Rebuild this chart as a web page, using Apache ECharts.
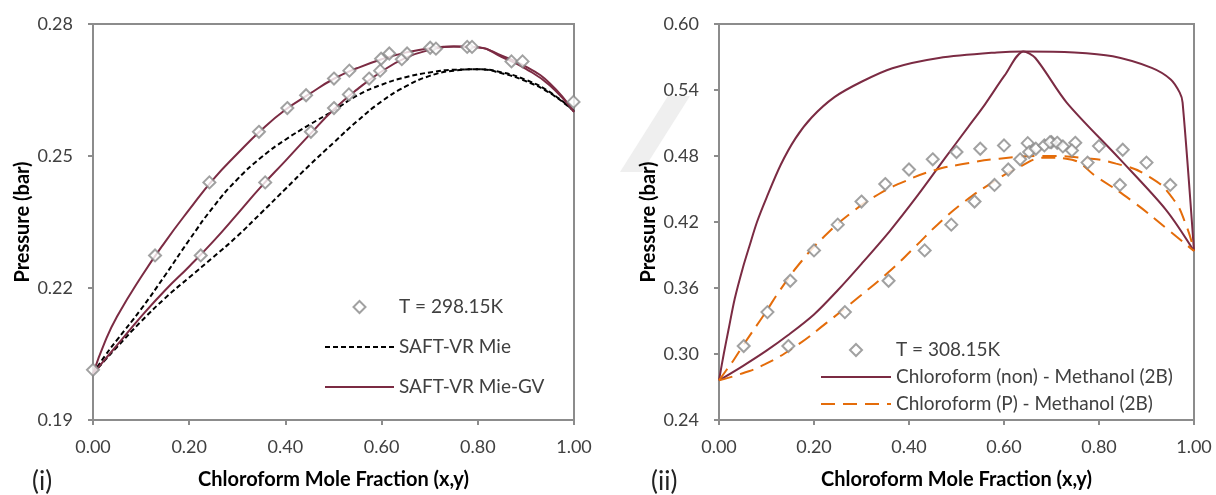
<!DOCTYPE html>
<html>
<head>
<meta charset="utf-8">
<title>Chloroform VLE</title>
<script src="https://cdn.jsdelivr.net/npm/echarts@6.0.0/dist/echarts.min.js"></script>
<style>
  html, body { margin: 0; padding: 0; background: #fff; }
  #main { width: 1216px; height: 495px; }
</style>
</head>
<body>
<div id="main"></div>
<script>
// ticks
const xTicks = [0, 0.2, 0.4, 0.6, 0.8, 1.0]
const leftPTicks = [0.19, 0.22, 0.25, 0.28]
const rightPTicks = [0.24, 0.30, 0.36, 0.42, 0.48, 0.54, 0.60]

// (i) T = 298.15K, experimental points
const leftExpX = [0, 0.129, 0.224, 0.242, 0.345, 0.358, 0.404, 0.443, 0.453, 0.501, 0.533, 0.501, 0.532,
  0.574, 0.597, 0.599, 0.616, 0.642, 0.653, 0.701, 0.713, 0.778, 0.788, 0.870, 0.893, 0.999]
const leftExpP = [0.2014, 0.2274, 0.2274, 0.2440, 0.2555, 0.2440, 0.2609, 0.2638, 0.2555, 0.2676, 0.2694, 0.2609, 0.2640,
  0.2676, 0.2694, 0.2721, 0.2733, 0.2720, 0.2733, 0.2746, 0.2744, 0.2748, 0.2748, 0.2715, 0.2715, 0.2623]

// (i) model curves, same x for all
const leftCurveX = [0, 0.025, 0.05, 0.10, 0.15, 0.20, 0.25, 0.30, 0.35, 0.40, 0.45, 0.50,
  0.55, 0.60, 0.65, 0.70, 0.75, 0.80, 0.85, 0.90, 0.95, 1.0]
const mieBubble = [0.2005, 0.2046, 0.2082, 0.2152, 0.2229, 0.2309, 0.2384, 0.2447, 0.2497, 0.2537, 0.2571, 0.2603,
  0.2638, 0.2662, 0.2679, 0.2690, 0.2696, 0.2697, 0.2688, 0.2670, 0.2643, 0.2602]
const mieDew = [0.2005, 0.2036, 0.2066, 0.2124, 0.2177, 0.2224, 0.2270, 0.2318, 0.2371, 0.2425, 0.2479, 0.2530,
  0.2580, 0.2624, 0.2658, 0.2682, 0.2694, 0.2697, 0.2690, 0.2673, 0.2645, 0.2602]
const gvBubble = [0.2005, 0.2078, 0.2135, 0.2225, 0.2305, 0.2378, 0.2447, 0.2505, 0.2559, 0.2605, 0.2641, 0.2675,
  0.2700, 0.2720, 0.2735, 0.2745, 0.2749, 0.2747, 0.2728, 0.2703, 0.2665, 0.2600]
const gvDew = [0.2005, 0.2038, 0.2070, 0.2135, 0.2195, 0.2249, 0.2306, 0.2368, 0.2431, 0.2489, 0.2548, 0.2605,
  0.2652, 0.2692, 0.2723, 0.2741, 0.2749, 0.2747, 0.2725, 0.2698, 0.2660, 0.2600]

// (ii) T = 308.15K, experimental points
const rightExpX = [0.052, 0.102, 0.150, 0.200, 0.250, 0.300, 0.350, 0.400, 0.450, 0.500, 0.550, 0.600, 0.650,
  0.700, 0.750, 0.800, 0.850, 0.900, 0.950,
  0.146, 0.265, 0.357, 0.433, 0.489, 0.538, 0.580, 0.609, 0.634, 0.653, 0.667, 0.685, 0.697, 0.712,
  0.724, 0.743, 0.776, 0.844]
const rightExpP = [0.3072, 0.3381, 0.3666, 0.3942, 0.4176, 0.4386, 0.4545, 0.4677, 0.4770, 0.4836, 0.4866, 0.4896, 0.4917,
  0.4926, 0.4920, 0.4890, 0.4857, 0.4740, 0.4537,
  0.3072, 0.3381, 0.3666, 0.3942, 0.4176, 0.4386, 0.4537, 0.4677, 0.4770, 0.4836, 0.4866, 0.4896, 0.4926, 0.4920,
  0.4887, 0.4851, 0.4740, 0.4537]

// (ii) chloroform (non) - methanol (2B)
const nonOuterX = [0, 0.010, 0.020, 0.033, 0.050, 0.064, 0.080, 0.100, 0.130, 0.161, 0.195, 0.243,
  0.300, 0.365, 0.463, 0.585, 0.642, 0.748, 0.829, 0.911, 0.951, 0.970, 0.976, 1.0]
const nonOuterP = [0.276, 0.300, 0.322, 0.350, 0.378, 0.398, 0.420, 0.442, 0.4720, 0.4960, 0.5150, 0.5335,
  0.5475, 0.5598, 0.5691, 0.5742, 0.5751, 0.5742, 0.5706, 0.5601, 0.5496, 0.5376, 0.5286, 0.3936]
const nonInnerX = [0, 0.05, 0.10, 0.145, 0.20, 0.25, 0.30, 0.36, 0.419, 0.475, 0.524, 0.56,
  0.601, 0.641, 0.666, 0.732, 0.843, 0.941, 1.0]
const nonInnerP = [0.276, 0.289, 0.303, 0.317, 0.336, 0.358, 0.382, 0.412, 0.4446, 0.4776, 0.506, 0.527,
  0.553, 0.5751, 0.5691, 0.5286, 0.4776, 0.4311, 0.3936]

// (ii) chloroform (P) - methanol (2B)
const pUpperX = [0, 0.015, 0.031, 0.052, 0.096, 0.130, 0.175, 0.222, 0.279, 0.335, 0.391, 0.454, 0.52,
  0.59, 0.688, 0.766, 0.836, 0.906, 0.955, 0.983, 1.0]
const pUpperP = [0.276, 0.285, 0.2946, 0.3086, 0.3365, 0.3590, 0.3850, 0.4070, 0.4285, 0.4450, 0.4570, 0.4671, 0.4731,
  0.4776, 0.4800, 0.4782, 0.4731, 0.4611, 0.4416, 0.4176, 0.3936]
const pLowerX = [0, 0.05, 0.096, 0.161, 0.227, 0.295, 0.356, 0.413, 0.461, 0.517, 0.576, 0.632,
  0.688, 0.731, 0.80, 0.871, 0.941, 1.0]
const pLowerP = [0.276, 0.2825, 0.2905, 0.3070, 0.3285, 0.3520, 0.3740, 0.3975, 0.4180, 0.4386, 0.4560, 0.4700,
  0.4785, 0.4776, 0.4596, 0.4386, 0.4146, 0.3936]

const pairs = (xs, ys) => xs.map((x, i) => [x, ys[i]])

const FONT = 'Lato'
const maroon = '#7b2b43'
const orange = '#e46c0a'
const axisGray = '#8c8c8c'
const textCol = '#404040'
const diamondIcon = 'path://M5,0L10,5L5,10L0,5Z'
const noSymbol = { opacity: 0 }

function xAxisOpt(gridIndex) {
  return {
    gridIndex: gridIndex,
    type: 'value',
    min: xTicks[0],
    max: xTicks[xTicks.length - 1],
    interval: 0.2,
    name: 'Chloroform Mole Fraction (x,y)',
    nameLocation: 'middle',
    nameGap: 50,
    nameTextStyle: { fontFamily: FONT, fontWeight: 'bold', fontSize: 20, color: '#000' },
    axisLine: { lineStyle: { color: axisGray, width: 2 } },
    axisTick: { length: 5, lineStyle: { color: axisGray, width: 2 } },
    axisLabel: {
      margin: 18,
      fontFamily: FONT,
      fontSize: 18,
      color: textCol,
      formatter: v => v.toFixed(2)
    },
    splitLine: { show: false }
  }
}

function yAxisOpt(gridIndex, ticks) {
  return {
    gridIndex: gridIndex,
    type: 'value',
    min: ticks[0],
    max: ticks[ticks.length - 1],
    name: 'Pressure (bar)',
    nameLocation: 'middle',
    nameGap: 60,
    nameTextStyle: { fontFamily: FONT, fontWeight: 'bold', fontSize: 20, color: '#000' },
    axisLine: { show: true, lineStyle: { color: axisGray, width: 2 } },
    axisTick: { show: true, length: 5, customValues: ticks, lineStyle: { color: axisGray, width: 2 } },
    axisLabel: {
      margin: 20,
      fontFamily: FONT,
      fontSize: 18,
      color: textCol,
      customValues: ticks,
      formatter: v => v.toFixed(2)
    },
    splitLine: { show: false }
  }
}

const diamond = {
  type: 'scatter',
  symbol: 'diamond',
  symbolSize: 12,
  z: 5,
  itemStyle: { color: '#fff', borderColor: '#8a8a8a', borderWidth: 2 }
}

function curve(name, xi, yi, data, color, dash, smooth) {
  return {
    name: name,
    type: 'line',
    xAxisIndex: xi,
    yAxisIndex: yi,
    data: data,
    smooth: smooth,
    symbol: 'none',
    itemStyle: { color: color },
    lineStyle: { color: color, width: 2, type: dash }
  }
}

const legendText = { fontFamily: FONT, fontSize: 19, color: textCol, lineHeight: 20 }

const chart = echarts.init(document.getElementById('main'))

chart.setOption({
  animation: false,
  backgroundColor: '#fff',
  grid: [
    { left: 93, top: 24, width: 481, height: 400, show: true, borderColor: axisGray, borderWidth: 2 },
    { left: 719, top: 24, width: 475, height: 400, show: true, borderColor: axisGray, borderWidth: 2 }
  ],
  xAxis: [xAxisOpt(0), xAxisOpt(1)],
  yAxis: [yAxisOpt(0, leftPTicks), yAxisOpt(1, rightPTicks)],
  legend: [
    {
      orient: 'vertical',
      left: 324,
      top: 297,
      padding: 0,
      itemWidth: 69,
      itemHeight: 12,
      itemGap: 20,
      textStyle: legendText,
      data: [
        { name: 'T = 298.15K', icon: diamondIcon },
        { name: 'SAFT-VR Mie', itemStyle: noSymbol },
        { name: 'SAFT-VR Mie-GV', itemStyle: noSymbol }
      ]
    },
    {
      orient: 'vertical',
      left: 820,
      top: 340,
      padding: 0,
      itemWidth: 70,
      itemHeight: 12,
      itemGap: 7,
      textStyle: legendText,
      data: [
        { name: 'T = 308.15K', icon: diamondIcon },
        { name: 'Chloroform (non) - Methanol (2B)', itemStyle: noSymbol },
        { name: 'Chloroform (P) - Methanol (2B)', itemStyle: noSymbol }
      ]
    }
  ],
  graphic: [
    { type: 'text', left: 32, top: 469, style: { text: '(i)', font: '26px Lato', fill: '#222' } },
    { type: 'text', left: 651, top: 469, style: { text: '(ii)', font: '26px Lato', fill: '#222' } },
    // faint watermark stroke between the panels
    { type: 'polygon', z: -1, shape: { points: [[668, 96], [690, 96], [642, 172], [620, 172]] }, style: { fill: '#efefef' } }
  ],
  series: [
    curve('SAFT-VR Mie', 0, 0, pairs(leftCurveX, mieBubble), '#000', [5, 3], true),
    curve('SAFT-VR Mie', 0, 0, pairs(leftCurveX, mieDew), '#000', [5, 3], true),
    curve('SAFT-VR Mie-GV', 0, 0, pairs(leftCurveX, gvBubble), maroon, 'solid', true),
    curve('SAFT-VR Mie-GV', 0, 0, pairs(leftCurveX, gvDew), maroon, 'solid', true),
    Object.assign({}, diamond, { name: 'T = 298.15K', xAxisIndex: 0, yAxisIndex: 0, data: pairs(leftExpX, leftExpP) }),

    curve('Chloroform (non) - Methanol (2B)', 1, 1, pairs(nonOuterX, nonOuterP), maroon, 'solid', 0.3),
    curve('Chloroform (non) - Methanol (2B)', 1, 1, pairs(nonInnerX, nonInnerP), maroon, 'solid', 0.3),
    curve('Chloroform (P) - Methanol (2B)', 1, 1, pairs(pUpperX, pUpperP), orange, [14, 8], true),
    curve('Chloroform (P) - Methanol (2B)', 1, 1, pairs(pLowerX, pLowerP), orange, [14, 8], true),
    Object.assign({}, diamond, { name: 'T = 308.15K', xAxisIndex: 1, yAxisIndex: 1, data: pairs(rightExpX, rightExpP) })
  ]
})
</script>
</body>
</html>
